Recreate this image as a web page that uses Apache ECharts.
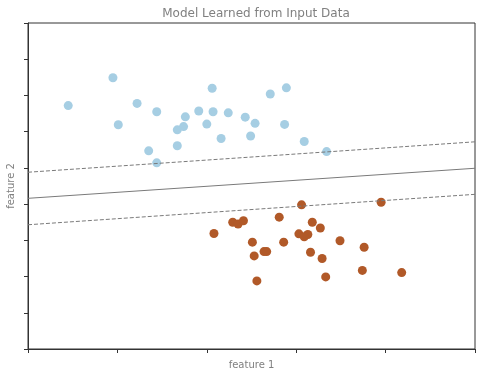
<!DOCTYPE html>
<html>
<head>
<meta charset="utf-8">
<script src="https://cdn.jsdelivr.net/npm/echarts@6/dist/echarts.min.js"></script>
<style>
  html, body { margin: 0; padding: 0; background: #fff; }
  #chart { width: 481px; height: 377px; }
</style>
</head>
<body>
<div id="chart"></div>
<script>
// points as [feature 1, feature 2]
var class0 = [
  [-0.05, 5.49], [-0.55, 4.72], [0.22, 4.78], [0.44, 4.55], [0.76, 4.41],
  [0.01, 4.19], [0.74, 4.14], [0.67, 4.05], [0.67, 3.61], [0.35, 3.47],
  [0.44, 3.14], [1.06, 5.20], [1.89, 5.21], [1.71, 5.04], [0.91, 4.57],
  [1.07, 4.55], [1.24, 4.52], [1.43, 4.40], [1.54, 4.23], [1.00, 4.21],
  [1.87, 4.20], [1.16, 3.81], [1.49, 3.88], [2.09, 3.73], [2.34, 3.45]
];
var class1 = [
  [2.06, 1.98], [1.29, 1.50], [1.35, 1.45], [1.41, 1.54], [1.81, 1.64],
  [1.08, 1.19], [1.51, 0.95], [1.86, 0.95], [1.53, 0.57], [1.64, 0.69],
  [1.67, 0.69], [1.56, -0.12], [2.95, 2.05], [2.18, 1.50], [2.27, 1.34],
  [2.03, 1.18], [2.13, 1.16], [2.09, 1.10], [2.49, 0.99], [2.76, 0.81],
  [2.16, 0.67], [2.29, 0.50], [2.74, 0.17], [3.18, 0.11], [2.33, -0.01]
];
// decision boundary and margins, evaluated at the axis ends
var lineX = [-1, 4];
var boundary = [2.16, 2.99];
var marginUpper = [2.88, 3.72];
var marginLower = [1.43, 2.27];

function pairs(xs, ys) {
  return xs.map(function (x, i) { return [x, ys[i]]; });
}

var chartDom = document.getElementById('chart');
var myChart = echarts.init(chartDom);
var option;

var axisText = { color: '#808080', fontSize: 10, fontFamily: 'DejaVu Sans' };

option = {
  animation: false,
  title: {
    text: 'Model Learned from Input Data',
    left: 251,
    textAlign: 'center',
    top: 3,
    textStyle: { color: '#808080', fontSize: 12, fontWeight: 'normal', fontFamily: 'DejaVu Sans' }
  },
  grid: {
    left: 28, right: 6, top: 23, bottom: 28,
    outerBoundsMode: 'none',
    containLabel: false,
    show: true, borderColor: '#333', borderWidth: 1
  },
  xAxis: {
    type: 'value',
    min: -1, max: 4, interval: 1,
    name: 'feature 1',
    nameLocation: 'middle',
    nameGap: 11,
    nameTextStyle: axisText,
    axisLine: { show: true, onZero: false, lineStyle: { color: '#333' } },
    axisTick: { show: true, length: 4, lineStyle: { color: '#333' } },
    axisLabel: { show: false },
    splitLine: { show: false }
  },
  yAxis: {
    type: 'value',
    min: -2, max: 7, interval: 1,
    name: 'feature 2',
    nameLocation: 'middle',
    nameGap: 12,
    nameTextStyle: axisText,
    axisLine: { show: true, onZero: false, lineStyle: { color: '#333' } },
    axisTick: { show: true, length: 4, lineStyle: { color: '#333' } },
    axisLabel: { show: false },
    splitLine: { show: false }
  },
  series: [
    {
      type: 'line',
      data: pairs(lineX, boundary),
      symbol: 'none',
      lineStyle: { color: '#7a7a7a', width: 1 }
    },
    {
      type: 'line',
      data: pairs(lineX, marginUpper),
      symbol: 'none',
      lineStyle: { color: '#7a7a7a', width: 1, type: [4, 2] }
    },
    {
      type: 'line',
      data: pairs(lineX, marginLower),
      symbol: 'none',
      lineStyle: { color: '#7a7a7a', width: 1, type: [4, 2] }
    },
    {
      type: 'scatter',
      data: class0,
      symbolSize: 9,
      itemStyle: { color: '#a6cee3', opacity: 1 }
    },
    {
      type: 'scatter',
      data: class1,
      symbolSize: 9,
      itemStyle: { color: '#b15928', opacity: 1 }
    }
  ]
};

option && myChart.setOption(option);
</script>
</body>
</html>
